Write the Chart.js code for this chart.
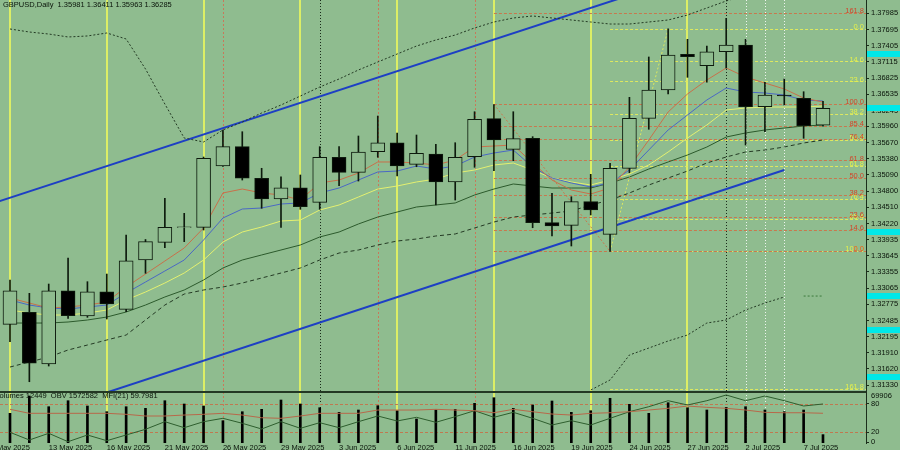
<!DOCTYPE html>
<html>
<head>
<meta charset="utf-8">
<script src="https://cdn.jsdelivr.net/npm/chart.js@4.4.1/dist/chart.umd.min.js"></script>
<style>
  html, body { margin: 0; padding: 0; background: #8fbc8f; }
  #wrap { position: relative; width: 900px; height: 450px; overflow: hidden; background: #8fbc8f; }
  #main { position: absolute; left: 0; top: 0; }
  #ind { position: absolute; left: 0; top: 392px; }
  .hdr { position: absolute; z-index: 2; font: 7.5px "Liberation Sans", sans-serif; color: #0a140a; white-space: pre; line-height: 9px; }
</style>
</head>
<body>
<div id="wrap">
  <canvas id="main" width="900" height="392"></canvas>
  <canvas id="ind" width="900" height="58"></canvas>
  <div class="hdr" id="h1" style="left:3px;top:0px"></div>
  <div class="hdr" id="h2" style="left:-5px;top:391px"></div>
</div>
<script>
// GBPUSD daily, 9 May - 8 Jul 2025 (bar index 0..42)
const opens = [1.32417, 1.32632, 1.31706, 1.33018, 1.32565, 1.33000, 1.32685, 1.33568, 1.33885, 1.34150,
  1.34153, 1.35251, 1.35597, 1.35031, 1.34660, 1.34862, 1.34601, 1.35407, 1.35138, 1.35507,
  1.35668, 1.35281, 1.35466, 1.34965, 1.35417, 1.36098, 1.35550, 1.35747, 1.34236, 1.34189,
  1.34612, 1.34028, 1.35210, 1.36105, 1.36612, 1.37251, 1.37047, 1.37297, 1.37417, 1.36313,
  1.36522, 1.36463, 1.35981];
const highs = [1.33210, 1.32972, 1.33138, 1.33604, 1.33180, 1.33317, 1.34016, 1.33935, 1.34673, 1.34404,
  1.35412, 1.35896, 1.35865, 1.35210, 1.35059, 1.35090, 1.35597, 1.35597, 1.35788, 1.36146,
  1.35842, 1.35806, 1.35640, 1.35668, 1.36223, 1.36350, 1.36223, 1.35776, 1.34762, 1.34701,
  1.35102, 1.35299, 1.36481, 1.37203, 1.37705, 1.37519, 1.37399, 1.37895, 1.37519, 1.36750,
  1.36809, 1.36581, 1.36411];
const lows = [1.32105, 1.31389, 1.31670, 1.32524, 1.32542, 1.32512, 1.32642, 1.33330, 1.33788, 1.33896,
  1.34105, 1.35242, 1.35000, 1.34494, 1.34153, 1.34476, 1.34476, 1.34898, 1.34982, 1.35407,
  1.35072, 1.35238, 1.34553, 1.34642, 1.35228, 1.35167, 1.35346, 1.34146, 1.33998, 1.33819,
  1.34374, 1.33720, 1.35131, 1.35908, 1.36540, 1.36839, 1.36750, 1.37006, 1.35627, 1.35865,
  1.36343, 1.35747, 1.35963];
const closes = [1.33018, 1.31719, 1.33018, 1.32571, 1.33000, 1.32780, 1.33555, 1.33896, 1.34153, 1.34160,
  1.35389, 1.35597, 1.35031, 1.34660, 1.34862, 1.34522, 1.35407, 1.35138, 1.35502, 1.35668,
  1.35251, 1.35478, 1.34965, 1.35407, 1.36087, 1.35716, 1.35740, 1.34236, 1.34177, 1.34612,
  1.34463, 1.35210, 1.36105, 1.36612, 1.37238, 1.37208, 1.37297, 1.37417, 1.36313, 1.36522,
  1.36504, 1.35973, 1.36285];

// moving averages / bands
const maRed = [1.32888, 1.32798, 1.32709, 1.32727, 1.32762, 1.32816, 1.33085, 1.33317, 1.33550, 1.33783,
  1.34141, 1.34768, 1.34839, 1.34768, 1.34732, 1.34642, 1.34947, 1.35000, 1.35126, 1.35323,
  1.35323, 1.35305, 1.35269, 1.35358, 1.35591, 1.35609, 1.35627, 1.35305, 1.35000, 1.34821,
  1.34750, 1.34857, 1.35233, 1.35716, 1.36218, 1.36540, 1.36791, 1.37006, 1.36844, 1.36737,
  1.36630, 1.36468, 1.36397];
const maBlue = [1.32852, 1.32762, 1.32709, 1.32691, 1.32727, 1.32762, 1.32977, 1.33174, 1.33371, 1.33568,
  1.33926, 1.34320, 1.34481, 1.34499, 1.34571, 1.34589, 1.34768, 1.34857, 1.35000, 1.35144,
  1.35161, 1.35251, 1.35197, 1.35251, 1.35412, 1.35484, 1.35537, 1.35233, 1.35036, 1.34947,
  1.34875, 1.34947, 1.35179, 1.35537, 1.35896, 1.36164, 1.36433, 1.36647, 1.36576, 1.36558,
  1.36522, 1.36433, 1.36415];
const maYellow = [1.32673, 1.32619, 1.32583, 1.32583, 1.32619, 1.32673, 1.32852, 1.32995, 1.33156, 1.33335,
  1.33568, 1.33890, 1.34069, 1.34159, 1.34266, 1.34284, 1.34463, 1.34553, 1.34696, 1.34839,
  1.34893, 1.34965, 1.35018, 1.35126, 1.35179, 1.35269, 1.35305, 1.35179, 1.35036, 1.34965,
  1.34911, 1.35000, 1.35108, 1.35269, 1.35502, 1.35752, 1.35985, 1.36254, 1.36289, 1.36307,
  1.36307, 1.36307, 1.36325];
const maGreen = [1.32440, 1.32440, 1.32440, 1.32458, 1.32494, 1.32547, 1.32637, 1.32762, 1.32906, 1.33031,
  1.33210, 1.33425, 1.33568, 1.33658, 1.33747, 1.33837, 1.33980, 1.34069, 1.34213, 1.34338,
  1.34427, 1.34517, 1.34553, 1.34589, 1.34732, 1.34839, 1.34929, 1.34893, 1.34857, 1.34857,
  1.34857, 1.34947, 1.35054, 1.35197, 1.35323, 1.35448, 1.35591, 1.35770, 1.35842, 1.35896,
  1.35931, 1.35967, 1.35985];
const maSlow = [1.31652, 1.31742, 1.31831, 1.31957, 1.32046, 1.32136, 1.32225, 1.32494, 1.32762, 1.32959,
  1.33031, 1.33085, 1.33156, 1.33246, 1.33335, 1.33425, 1.33568, 1.33693, 1.33747, 1.33837,
  1.33908, 1.33944, 1.33998, 1.34034, 1.34141, 1.34248, 1.34338, 1.34374, 1.34409, 1.34445,
  1.34553, 1.34642, 1.34768, 1.34911, 1.35036, 1.35161, 1.35305, 1.35412, 1.35502, 1.35537,
  1.35591, 1.35663, 1.35716];
const bandUpper = [1.37704, 1.37650, 1.37614, 1.37561, 1.37579, 1.37632, 1.37525, 1.36988, 1.36361, 1.35752,
  1.35681, 1.35896, 1.36039, 1.36200, 1.36343, 1.36504, 1.36665, 1.36809, 1.36970, 1.37113,
  1.37256, 1.37399, 1.37507, 1.37596, 1.37722, 1.37829, 1.37901, 1.37937, 1.37901, 1.37865,
  1.37829, 1.37793, 1.37793, 1.37829, 1.37865, 1.37954, 1.38080, 1.38205, 1.38313, 1.38366,
  1.38366, 1.38366, 1.38366];
const bandLowerFrom = 29;
const bandLower = [1.30882, 1.31240, 1.31420, 1.31867, 1.31992, 1.32118, 1.32225, 1.32440, 1.32494, 1.32673,
  1.32798, 1.32906];
const supportFrom = 41;
const supportDots = [1.32923, 1.32923];

// indicator window
const volumes = [44170, 69906, 53990, 62920, 55030, 46550, 53990, 51610, 62920, 58010,
  55030, 33170, 46550, 50120, 63960, 58010, 52500, 45660, 49080, 55480,
  48040, 35700, 49080, 50120, 59050, 67380, 51610, 56520, 62470, 45660,
  48040, 66490, 57560, 44170, 59940, 52500, 49080, 53100, 53990, 49080,
  46550, 49080, 12449];
const obv = [1346200, 1284600, 1338200, 1271000, 1324600, 1279000, 1324600, 1370200, 1431000, 1383000,
  1431000, 1458200, 1418200, 1372600, 1431000, 1378200, 1423000, 1383000, 1431000, 1476600,
  1436600, 1466200, 1426200, 1471000, 1519000, 1466200, 1506200, 1458200, 1404600, 1439000,
  1404600, 1458200, 1511000, 1551000, 1599000, 1564600, 1599000, 1644600, 1599000, 1636600,
  1599000, 1556600, 1572582];
const mfi = [68.0, 59.7, 59.7, 59.7, 59.7, 59.7, 57.6, 54.1, 54.1, 56.1,
  57.6, 59.7, 56.1, 50.5, 49.3, 54.1, 59.7, 59.7, 59.7, 66.5,
  66.5, 66.5, 68.0, 66.5, 65.1, 60.9, 68.0, 63.0, 58.2, 56.1,
  59.7, 60.9, 63.0, 66.5, 70.1, 74.8, 72.1, 70.1, 66.5, 61.7,
  60.9, 60.9, 59.7981];
const mfiLevels = [80, 20];

// axes
const priceTicks = [1.37985, 1.37695, 1.37405, 1.37115, 1.36825, 1.36535, 1.36245, 1.35960, 1.35670, 1.35380,
  1.35090, 1.34800, 1.34510, 1.34220, 1.33935, 1.33645, 1.33355, 1.33065, 1.32775, 1.32485,
  1.32195, 1.31910, 1.31620, 1.31330];
const tickBars = [-1, 2, 5, 8, 11, 14, 17, 20, 23, 26, 29, 32, 35, 38, 41];
const tickLabels = ['8 May 2025', '13 May 2025', '16 May 2025', '21 May 2025', '26 May 2025', '29 May 2025',
  '3 Jun 2025', '6 Jun 2025', '11 Jun 2025', '16 Jun 2025', '19 Jun 2025', '24 Jun 2025', '27 Jun 2025',
  '2 Jul 2025', '7 Jul 2025'];

// objects
const fridayBars = [0, 5, 10, 15, 20, 25, 30, 35];
const redBars = [11, 19, 24];
const monthBars = [16, 37];
const whiteBars = [38, 39, 40];
const channelUpper = [[-1, 1.34569], [32, 1.38308]];
const channelLower = [[4, 1.31083], [40, 1.35179]];
const fibLevels = [0, 14.6, 23.6, 38.2, 50, 61.8, 76.4, 85.4, 100, 161.8];
const fibRed = { from: 25, to: 31, p0: 1.33724, p100: 1.36356 };
const fibYellow = { from: 31, to: 34, p0: 1.37704, p100: 1.33724 };
const cyanMarks = [1.37256, 1.36285, 1.34069, 1.32923, 1.32315, 1.31473];

const BG = '#8fbc8f';
const INK = '#0a140a';
const xMin = -0.5166, xMax = 44.222;
const last = closes.length - 1;

Chart.defaults.font.family = '"Liberation Sans", sans-serif';
Chart.defaults.font.size = 7.5;
Chart.defaults.color = INK;

document.getElementById('h1').textContent =
  `GBPUSD,Daily  ${opens[last].toFixed(5)} ${highs[last].toFixed(5)} ${lows[last].toFixed(5)} ${closes[last].toFixed(5)}`;
document.getElementById('h2').textContent =
  `Volumes ${volumes[last]}  OBV ${obv[last]}  MFI(21) ${mfi[last].toFixed(4)}`;

const pts = (arr, from = 0) => arr.map((v, i) => ({ x: i + from, y: v }));
function line(data, color, width, dash, order) {
  return { type: 'line', data, borderColor: color, borderWidth: width, borderDash: dash || [],
    pointRadius: 0, tension: 0, fill: false, order: order || 5, yAxisID: 'y' };
}

function drawVLines(chart) {
  const { ctx, chartArea: a, scales: { x } } = chart;
  const draw = (bars, color, width, dash) => {
    ctx.strokeStyle = color; ctx.lineWidth = width; ctx.setLineDash(dash);
    bars.forEach(b => {
      const px = Math.round(x.getPixelForValue(b)) + (width % 2 ? 0.5 : 0);
      ctx.beginPath(); ctx.moveTo(px, a.top); ctx.lineTo(px, a.bottom); ctx.stroke();
    });
  };
  ctx.save();
  draw(fridayBars, '#dcee66', 2, []);
  draw(redBars, '#c8785a', 1, [2, 2]);
  draw(monthBars, '#1a2a1a', 1, [1, 2]);
  draw(whiteBars, '#eef4ee', 1, [1, 2]);
  ctx.restore();
}

const fibStyles = [
  { fib: fibYellow, line: '#dde860', text: '#e4f04c' },
  { fib: fibRed, line: '#c8784e', text: '#d2452a' }
];
const fibPrice = (f, l) => f.p0 + (f.p100 - f.p0) * l / 100;

const mainPlugin = {
  id: 'mainDeco',
  beforeDatasetsDraw(chart) {
    drawVLines(chart);
    const { ctx, chartArea: a, scales: { x, y } } = chart;
    ctx.save();
    ctx.lineWidth = 1; ctx.setLineDash([3, 2]);
    fibStyles.forEach(s => {
      const x0 = x.getPixelForValue(s.fib.from);
      ctx.strokeStyle = s.line;
      fibLevels.forEach(l => {
        const py = Math.round(y.getPixelForValue(fibPrice(s.fib, l))) + 0.5;
        ctx.beginPath(); ctx.moveTo(x0, py); ctx.lineTo(a.right, py); ctx.stroke();
      });
    });
    ctx.restore();
  },
  afterDatasetsDraw(chart) {
    const { ctx, chartArea: a, scales: { y } } = chart;
    ctx.save();
    ctx.font = '7.5px "Liberation Sans"'; ctx.textAlign = 'right'; ctx.textBaseline = 'middle';
    fibStyles.forEach(s => {
      ctx.fillStyle = s.text;
      fibLevels.forEach(l => ctx.fillText(l.toFixed(1), a.right - 2, y.getPixelForValue(fibPrice(s.fib, l)) - 2));
    });
    ctx.fillStyle = '#233823';
    ctx.fillRect(0, a.bottom - 1, a.right, 1);
    ctx.restore();
  },
  afterDraw(chart) {
    const { ctx, chartArea: a, scales: { y } } = chart;
    ctx.save();
    ctx.fillStyle = '#00e8e8';
    cyanMarks.forEach(p => ctx.fillRect(a.right + 1, Math.round(y.getPixelForValue(p)) - 3, chart.width - a.right, 6));
    ctx.restore();
  }
};

const bodyColors = opens.map((o, i) => closes[i] >= o ? BG : '#000000');

new Chart(document.getElementById('main'), {
  type: 'bar',
  data: {
    datasets: [
      { type: 'bar', data: opens.map((o, i) => ({ x: i, y: [o, closes[i]] })), backgroundColor: bodyColors,
        borderColor: '#0d1a0d', borderWidth: 1, borderSkipped: false, barThickness: 14, grouped: false, order: 0 },
      { type: 'bar', data: lows.map((l, i) => ({ x: i, y: [l, highs[i]] })), backgroundColor: '#0d1a0d',
        borderWidth: 0, barThickness: 1, grouped: false, order: 1 },
      line(pts(maRed), '#c8704a', 1),
      line(pts(maBlue), '#4a68c4', 1),
      line(pts(maYellow), '#e4f070', 1),
      line(pts(maGreen), '#2c5a2c', 1),
      line(pts(maSlow), '#243a24', 1, [4, 3]),
      line(pts(bandUpper), '#243a24', 1, [2, 2]),
      line(pts(bandLower, bandLowerFrom), '#243a24', 1, [2, 2]),
      line(pts(supportDots, supportFrom), '#3c7a3c', 1, [2, 2]),
      line(channelUpper.map(p => ({ x: p[0], y: p[1] })), '#1d3fc4', 2),
      line(channelLower.map(p => ({ x: p[0], y: p[1] })), '#1d3fc4', 2),
      line([{ x: fibRed.from, y: fibRed.p100 }, { x: fibRed.to, y: fibRed.p0 }], '#c8784e', 1, [2, 2]),
      line([{ x: fibYellow.from, y: fibYellow.p100 }, { x: fibYellow.to, y: fibYellow.p0 }], '#dde860', 1, [2, 2])
    ]
  },
  options: {
    responsive: false, animation: false, events: [],
    layout: { padding: 0 },
    plugins: { legend: { display: false }, tooltip: { enabled: false } },
    scales: {
      x: { type: 'linear', min: xMin, max: xMax, offset: false, display: false },
      y: {
        position: 'right', min: 1.31205, max: 1.38223,
        grid: { display: true, drawOnChartArea: false, drawTicks: true, tickLength: 3, color: '#1b2e1b' },
        border: { display: true, color: '#1b2e1b', width: 1 },
        ticks: { padding: 2, color: INK, callback: v => Number(v).toFixed(5) },
        afterBuildTicks: s => { s.ticks = priceTicks.map(v => ({ value: v })); },
        afterFit: s => { s.width = 34; s.paddingTop = 0; s.paddingBottom = 0; }
      }
    }
  },
  plugins: [mainPlugin]
});

const indPlugin = {
  id: 'indDeco',
  beforeDatasetsDraw(chart) {
    drawVLines(chart);
    const { ctx, chartArea: a, scales: { y } } = chart;
    ctx.save();
    ctx.strokeStyle = '#c07850'; ctx.lineWidth = 1; ctx.setLineDash([3, 2]);
    mfiLevels.forEach(l => {
      const py = Math.round(y.getPixelForValue(l)) + 0.5;
      ctx.beginPath(); ctx.moveTo(a.left, py); ctx.lineTo(a.right, py); ctx.stroke();
    });
    ctx.restore();
  },
  afterDraw(chart) {
    const { ctx, chartArea: a, scales: { yv } } = chart;
    ctx.save();
    ctx.fillStyle = '#233823';
    ctx.fillRect(0, a.top, a.right, 1);
    ctx.fillStyle = INK; ctx.font = '7.5px "Liberation Sans"';
    ctx.textAlign = 'left'; ctx.textBaseline = 'middle';
    const vmax = Math.max(...volumes);
    ctx.fillText(String(vmax), a.right + 5, yv.getPixelForValue(vmax));
    ctx.restore();
  }
};

new Chart(document.getElementById('ind'), {
  type: 'bar',
  data: {
    datasets: [
      { type: 'bar', data: pts(volumes), yAxisID: 'yv', backgroundColor: '#000000', borderWidth: 0,
        barThickness: 2, grouped: false, order: 3 },
      { type: 'line', data: pts(obv), yAxisID: 'yo', borderColor: '#2e5e2e', borderWidth: 1,
        pointRadius: 0, tension: 0, order: 2 },
      { type: 'line', data: pts(mfi), yAxisID: 'y', borderColor: '#b8684a', borderWidth: 1,
        pointRadius: 0, tension: 0, order: 1 }
    ]
  },
  options: {
    responsive: false, animation: false, events: [],
    layout: { padding: 0 },
    plugins: { legend: { display: false }, tooltip: { enabled: false } },
    scales: {
      x: {
        type: 'linear', min: xMin, max: xMax, offset: false,
        grid: { display: false, drawTicks: false }, border: { display: false },
        ticks: { autoSkip: false, maxRotation: 0, minRotation: 0, align: 'start', padding: 0, color: INK,
          callback: (v, i) => tickLabels[i] },
        afterBuildTicks: s => { s.ticks = tickBars.map(v => ({ value: v })); },
        afterFit: s => { s.height = 7; s.paddingLeft = 0; s.paddingRight = 0; }
      },
      y: {
        position: 'right', min: -2, max: 104,
        grid: { display: true, drawOnChartArea: false, drawTicks: true, tickLength: 3, color: '#1b2e1b' },
        border: { display: true, color: '#1b2e1b', width: 1 },
        ticks: { padding: 2, color: INK, callback: v => String(v) },
        afterBuildTicks: s => { s.ticks = [0, 20, 80].map(v => ({ value: v })); },
        afterFit: s => { s.width = 34; s.paddingTop = 0; s.paddingBottom = 0; }
      },
      yv: { display: false, min: 0, max: 75856 },
      yo: { display: false, min: 1260582, max: 1668582 }
    }
  },
  plugins: [indPlugin]
});
</script>
</body>
</html>
